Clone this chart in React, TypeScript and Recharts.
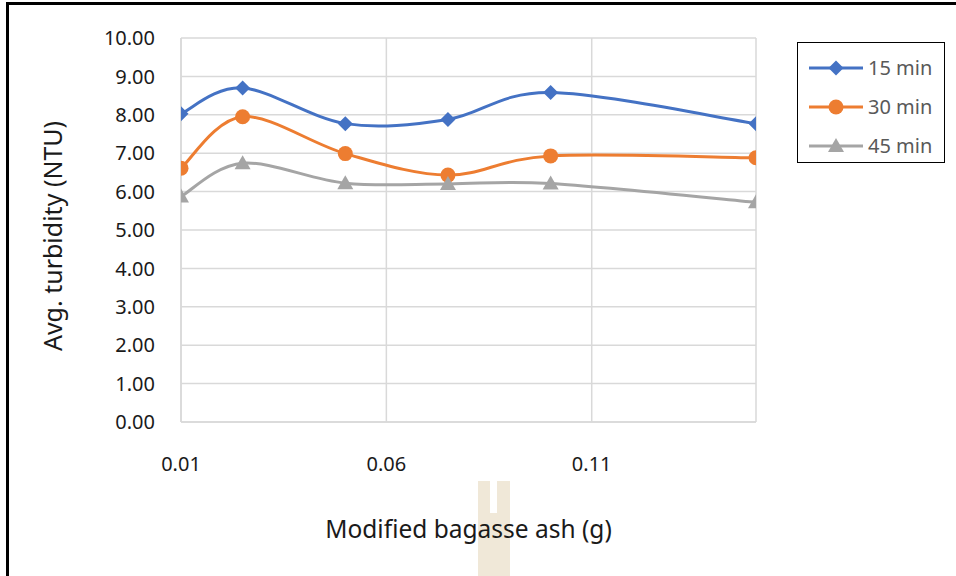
import React from "react";
import {
  LineChart,
  Line,
  XAxis,
  YAxis,
  CartesianGrid,
  Legend,
} from "recharts";

// Dose of modified bagasse ash (g)
const doses = [0.01, 0.025, 0.05, 0.075, 0.1, 0.15];

// Average turbidity (NTU) after each settling time
const turbidity15 = [8.03, 8.7, 7.77, 7.88, 8.58, 7.77];
const turbidity30 = [6.61, 7.95, 6.99, 6.43, 6.93, 6.88];
const turbidity45 = [5.87, 6.74, 6.22, 6.2, 6.21, 5.72];

const xTicks = [0.01, 0.06, 0.11];
const yTicks = [0, 1, 2, 3, 4, 5, 6, 7, 8, 9, 10];

const seriesInfo = [
  { key: "m15", name: "15 min", color: "#4472C4", shape: "diamond" },
  { key: "m30", name: "30 min", color: "#ED7D31", shape: "circle" },
  { key: "m45", name: "45 min", color: "#A5A5A5", shape: "triangle" },
];

const data = doses.map((x, i) => ({
  x,
  m15: turbidity15[i],
  m30: turbidity30[i],
  m45: turbidity45[i],
}));

const FONT = "'Noto Sans', 'Open Sans', sans-serif";

// Office-style smoothed line: cubic bezier through every point
const smoothCurve = (context: any) => {
  let pts: [number, number][] = [];
  return {
    areaStart() {},
    areaEnd() {},
    lineStart() {
      pts = [];
    },
    point(x: number, y: number) {
      pts.push([+x, +y]);
    },
    lineEnd() {
      if (!pts.length) return;
      context.moveTo(pts[0][0], pts[0][1]);
      for (let i = 0; i < pts.length - 1; i++) {
        const p0 = pts[Math.max(i - 1, 0)];
        const p1 = pts[i];
        const p2 = pts[i + 1];
        const p3 = pts[Math.min(i + 2, pts.length - 1)];
        context.bezierCurveTo(
          p1[0] + (p2[0] - p0[0]) / 6,
          p1[1] + (p2[1] - p0[1]) / 6,
          p2[0] - (p3[0] - p1[0]) / 6,
          p2[1] - (p3[1] - p1[1]) / 6,
          p2[0],
          p2[1]
        );
      }
    },
  };
};

const Marker = ({ cx, cy, shape, color }: any) => {
  if (cx == null || cy == null) return null;
  if (shape === "diamond") {
    const s = 7.5;
    return (
      <path
        d={`M${cx},${cy - s} L${cx + s},${cy} L${cx},${cy + s} L${cx - s},${cy} Z`}
        fill={color}
      />
    );
  }
  if (shape === "circle") {
    return <circle cx={cx} cy={cy} r={7.5} fill={color} />;
  }
  return (
    <path
      d={`M${cx},${cy - 8} L${cx + 8},${cy + 6} L${cx - 8},${cy + 6} Z`}
      fill={color}
    />
  );
};

const LegendBox = () => (
  <div
    style={{
      width: 148,
      height: 121,
      boxSizing: "border-box",
      border: "1.5px solid #000",
      paddingTop: 5,
      background: "#fff",
    }}
  >
    {seriesInfo.map((s) => (
      <div
        key={s.key}
        style={{ display: "flex", alignItems: "center", height: 39, paddingLeft: 11 }}
      >
        <svg width={54} height={20}>
          <line x1={0} y1={10} x2={54} y2={10} stroke={s.color} strokeWidth={3} />
          <Marker cx={27} cy={10} shape={s.shape} color={s.color} />
        </svg>
        <span
          style={{
            marginLeft: 5,
            fontFamily: FONT,
            fontSize: 20,
            color: "#595959",
            whiteSpace: "nowrap",
          }}
        >
          {s.name}
        </span>
      </div>
    ))}
  </div>
);

export default function App() {
  return (
    <div
      style={{
        position: "absolute",
        left: 0,
        top: 0,
        width: 956,
        height: 576,
        overflow: "hidden",
        background: "#fff",
      }}
    >
      {/* page frame */}
      <div
        style={{
          position: "absolute",
          left: 6,
          top: 2,
          width: 1200,
          height: 1000,
          border: "3px solid #000",
        }}
      />
      {/* stamp behind the axis title */}
      <div
        style={{
          position: "absolute",
          left: 478,
          top: 481,
          width: 32,
          height: 100,
          background: "#F0E8D8",
        }}
      />
      <div
        style={{
          position: "absolute",
          left: 490,
          top: 481,
          width: 7,
          height: 32,
          background: "#fff",
        }}
      />
      <div style={{ position: "absolute", left: 0, top: 0 }}>
        <LineChart
          width={956}
          height={576}
          data={data}
          margin={{ top: 38, right: 200, left: 0, bottom: 0 }}
        >
          <CartesianGrid stroke="#D9D9D9" strokeWidth={1.5} />
          <XAxis
            dataKey="x"
            type="number"
            domain={[0.01, 0.15]}
            ticks={xTicks}
            allowDataOverflow
            height={154}
            tickSize={0}
            tickMargin={35}
            tickLine={false}
            axisLine={{ stroke: "#D9D9D9", strokeWidth: 1.5 }}
            tickFormatter={(v: number) => v.toFixed(2)}
            tick={{ fill: "#1a1a1a", fontSize: 20, fontFamily: FONT }}
            label={({ viewBox }: any) => (
              <text
                x={viewBox.x + viewBox.width / 2}
                y={538}
                textAnchor="middle"
                fill="#1a1a1a"
                fontSize={24.5}
                fontFamily={FONT}
              >
                Modified bagasse ash (g)
              </text>
            )}
          />
          <YAxis
            type="number"
            domain={[0, 10]}
            ticks={yTicks}
            width={181}
            tickSize={0}
            tickMargin={26}
            tickLine={false}
            axisLine={{ stroke: "#D9D9D9", strokeWidth: 1.5 }}
            tickFormatter={(v: number) => v.toFixed(2)}
            tick={{ fill: "#1a1a1a", fontSize: 20, fontFamily: FONT }}
            label={() => (
              <text
                x={0}
                y={0}
                transform="translate(62, 236) rotate(-90)"
                textAnchor="middle"
                fill="#1a1a1a"
                fontSize={25}
                fontFamily={FONT}
              >
                Avg. turbidity (NTU)
              </text>
            )}
          />
          <Legend
            layout="vertical"
            align="center"
            verticalAlign="middle"
            wrapperStyle={{ left: 797, top: 42, width: 148, height: 121 }}
            content={() => <LegendBox />}
          />
          {seriesInfo.map((s) => (
            <Line
              key={s.key}
              dataKey={s.key}
              name={s.name}
              type={smoothCurve as any}
              stroke={s.color}
              strokeWidth={3}
              dot={(p: any) => (
                <Marker key={`${s.key}-${p.index}`} cx={p.cx} cy={p.cy} shape={s.shape} color={s.color} />
              )}
              activeDot={false}
              isAnimationActive={false}
            />
          ))}
        </LineChart>
      </div>
    </div>
  );
}
